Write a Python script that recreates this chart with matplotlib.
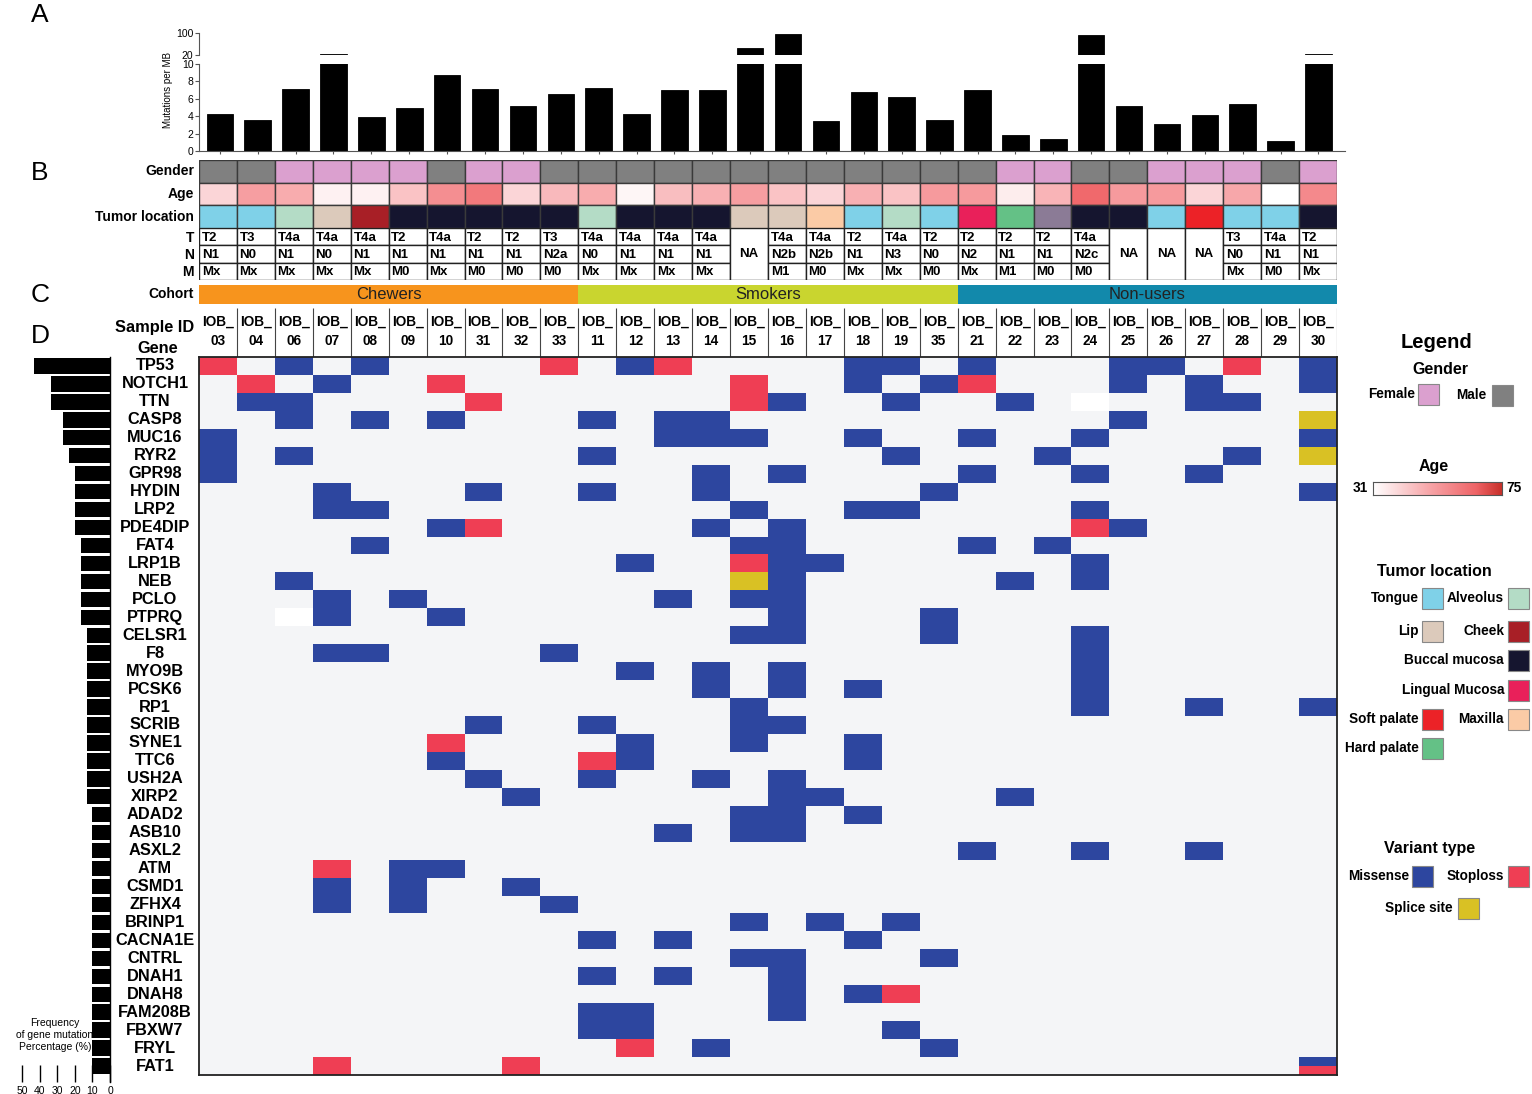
import numpy as np
import matplotlib
matplotlib.use('Agg')
import matplotlib.pyplot as plt
from matplotlib.patches import Rectangle
from matplotlib.colors import LinearSegmentedColormap, Normalize

plt.rcParams['font.family'] = ['Liberation Sans', 'DejaVu Sans']

W, H = 1532, 1094

# ---- data ----
samples = ['03', '04', '06', '07', '08', '09', '10', '31', '32', '33',
           '11', '12', '13', '14', '15', '16', '17', '18', '19', '35',
           '21', '22', '23', '24', '25', '26', '27', '28', '29', '30']
cohorts = ['Chewers', 'Smokers', 'Non-users']
cohort_sizes = [10, 10, 10]

# mutations per MB (panel A)
tmb = [4.2, 3.6, 7.1, 22, 3.9, 4.9, 8.7, 7.1, 5.2, 6.6,
       7.2, 4.3, 7.0, 7.0, 45, 98, 3.4, 6.8, 6.2, 3.6,
       7.0, 1.8, 1.4, 92, 5.2, 3.1, 4.1, 5.4, 1.2, 22]

gender = list('MMFFFFMFFM' 'MMMMMMMMMM' 'MFFMMFFFMF')
age = [40, 52, 49, 34, 34, 44, 56, 61, 40, 46,
       49, 33, 45, 48, 52, 44, 40, 48, 44, 53,
       53, 35, 47, 65, 53, 53, 40, 50, 31, 57]
location = ['Tongue', 'Tongue', 'Alveolus', 'Lip', 'Cheek', 'Buccal mucosa', 'Buccal mucosa',
            'Buccal mucosa', 'Buccal mucosa', 'Buccal mucosa',
            'Alveolus', 'Buccal mucosa', 'Buccal mucosa', 'Buccal mucosa', 'Lip', 'Lip',
            'Maxilla', 'Tongue', 'Alveolus', 'Tongue',
            'Lingual Mucosa', 'Hard palate', 'Other', 'Buccal mucosa', 'Buccal mucosa',
            'Tongue', 'Soft palate', 'Tongue', 'Tongue', 'Buccal mucosa']
t_stage = ['T2', 'T3', 'T4a', 'T4a', 'T4a', 'T2', 'T4a', 'T2', 'T2', 'T3',
           'T4a', 'T4a', 'T4a', 'T4a', 'NA', 'T4a', 'T4a', 'T2', 'T4a', 'T2',
           'T2', 'T2', 'T2', 'T4a', 'NA', 'NA', 'NA', 'T3', 'T4a', 'T2']
n_stage = ['N1', 'N0', 'N1', 'N0', 'N1', 'N1', 'N1', 'N1', 'N1', 'N2a',
           'N0', 'N1', 'N1', 'N1', 'NA', 'N2b', 'N2b', 'N1', 'N3', 'N0',
           'N2', 'N1', 'N1', 'N2c', 'NA', 'NA', 'NA', 'N0', 'N1', 'N1']
m_stage = ['Mx', 'Mx', 'Mx', 'Mx', 'Mx', 'M0', 'Mx', 'M0', 'M0', 'M0',
           'Mx', 'Mx', 'Mx', 'Mx', 'NA', 'M1', 'M0', 'Mx', 'Mx', 'M0',
           'Mx', 'M1', 'M0', 'M0', 'NA', 'NA', 'NA', 'Mx', 'M0', 'Mx']

genes = ['TP53', 'NOTCH1', 'TTN', 'CASP8', 'MUC16', 'RYR2', 'GPR98', 'HYDIN', 'LRP2',
         'PDE4DIP', 'FAT4', 'LRP1B', 'NEB', 'PCLO', 'PTPRQ', 'CELSR1', 'F8', 'MYO9B',
         'PCSK6', 'RP1', 'SCRIB', 'SYNE1', 'TTC6', 'USH2A', 'XIRP2', 'ADAD2', 'ASB10',
         'ASXL2', 'ATM', 'CSMD1', 'ZFHX4', 'BRINP1', 'CACNA1E', 'CNTRL', 'DNAH1',
         'DNAH8', 'FAM208B', 'FBXW7', 'FRYL', 'FAT1']

# M = missense, S = stoploss, P = splice site, W = unlabelled white, X = missense + stoploss
mut = [
    'S.M.M....S' '.MS....MM.' 'M...MM.S.M',  # TP53
    '.S.M..S...' '....S..M.M' 'S...M.M..M',  # NOTCH1
    '.MM....S..' '....SM..M.' '.M.W..MM..',  # TTN
    '..M.M.M...' 'M.MM......' '....M....P',  # CASP8
    'M.........' '..MMM..M..' 'M..M.....M',  # MUC16
    'M.M.......' 'M.......M.' '..M....M.P',  # RYR2
    'M.........' '...M.M....' 'M..M..M...',  # GPR98
    '...M...M..' 'M..M.....M' '.........M',  # HYDIN
    '...MM.....' '....M..MM.' '...M......',  # LRP2
    '......MS..' '...M.M....' '...SM.....',  # PDE4DIP
    '....M.....' '....MM....' 'M.M.......',  # FAT4
    '..........' '.M..SMM...' '...M......',  # LRP1B
    '..M.......' '....PM....' '.M.M......',  # NEB
    '...M.M....' '..M.MM....' '..........',  # PCLO
    '..WM..M...' '.....M...M' '..........',  # PTPRQ
    '..........' '....MM...M' '...M......',  # CELSR1
    '...MM....M' '..........' '...M......',  # F8
    '..........' '.M.M.M....' '...M......',  # MYO9B
    '..........' '...M.M.M..' '...M......',  # PCSK6
    '..........' '....M.....' '...M..M..M',  # RP1
    '.......M..' 'M...MM....' '..........',  # SCRIB
    '......S...' '.M..M..M..' '..........',  # SYNE1
    '......M...' 'SM.....M..' '..........',  # TTC6
    '.......M..' 'M..M.M....' '..........',  # USH2A
    '........M.' '.....MM...' '.M........',  # XIRP2
    '..........' '....MM.M..' '..........',  # ADAD2
    '..........' '..M.MM....' '..........',  # ASB10
    '..........' '..........' 'M..M..M...',  # ASXL2
    '...S.MM...' '..........' '..........',  # ATM
    '...M.M..M.' '..........' '..........',  # CSMD1
    '...M.M...M' '..........' '..........',  # ZFHX4
    '..........' '....M.M.M.' '..........',  # BRINP1
    '..........' 'M.M....M..' '..........',  # CACNA1E
    '..........' '....MM...M' '..........',  # CNTRL
    '..........' 'M.M..M....' '..........',  # DNAH1
    '..........' '.....M.MS.' '..........',  # DNAH8
    '..........' 'MM...M....' '..........',  # FAM208B
    '..........' 'MM......M.' '..........',  # FBXW7
    '..........' '.S.M.....M' '..........',  # FRYL
    '...S....S.' '..........' '.........X',  # FAT1
]

# frequency of gene mutation (%)
freq = [43.3, 33.3, 33.3, 26.7, 26.7, 23.3, 20, 20, 20, 20,
        16.7, 16.7, 16.7, 16.7, 16.7, 13.3, 13.3, 13.3, 13.3, 13.3,
        13.3, 13.3, 13.3, 13.3, 13.3, 10, 10, 10, 10, 10,
        10, 10, 10, 10, 10, 10, 10, 10, 10, 10]

# ---- colours ----
gender_colors = {'F': '#dba0cf', 'M': '#808080'}
loc_colors = {'Tongue': '#7fd1e8', 'Alveolus': '#b4dcc6', 'Lip': '#dccabb',
              'Cheek': '#a81f26', 'Buccal mucosa': '#15152f', 'Lingual Mucosa': '#e9205a',
              'Soft palate': '#ec2227', 'Maxilla': '#fbcba6', 'Hard palate': '#64c186',
              'Other': '#8b7b96'}
var_colors = {'M': '#2d469f', 'S': '#ef3e54', 'P': '#d9c124', 'W': '#ffffff'}
cohort_colors = ['#f7941d', '#c9d52f', '#1289ab']
age_cmap = LinearSegmentedColormap.from_list(
    'age', [(0, '#ffffff'), (0.45, '#f7a3a6'), (0.8, '#ef6467'), (1, '#c8302a')])
age_norm = Normalize(31, 75)


fig = plt.figure(figsize=(W / 100, H / 100), dpi=100)


def add_ax(x0, y0, x1, y1):
    return fig.add_axes([x0 / W, 1 - y1 / H, (x1 - x0) / W, (y1 - y0) / H])


n = len(samples)
x = np.arange(n)

# ---- A: mutations per MB (broken axis) ----
ax_lo = add_ax(199, 64, 1345, 151)
ax_hi = add_ax(199, 33, 1345, 55)
for ax in (ax_lo, ax_hi):
    ax.bar(x, tmb, width=0.7, color='black', edgecolor='black', linewidth=0.6)
    ax.set_xlim(-0.55, n - 0.3)
    ax.spines['top'].set_visible(False)
    ax.spines['right'].set_visible(False)
    ax.spines['left'].set_color('#555555')
    ax.spines['bottom'].set_color('#555555')
    ax.tick_params(axis='y', labelsize=7.5, length=3, color='#555555', pad=1)
ax_lo.set_ylim(0, 10)
ax_lo.set_yticks([0, 2, 4, 6, 8, 10])
ax_lo.set_xticks(x)
ax_lo.set_xticklabels([])
ax_lo.tick_params(axis='x', length=2.5, color='#555555')
ax_hi.set_ylim(20, 100)
ax_hi.set_yticks([20, 100])
ax_hi.set_xticks([])
ax_hi.spines['bottom'].set_visible(False)
fig.text(168 / W, 1 - 90 / H, 'Mutations per MB', rotation=90, fontsize=7,
         ha='center', va='center')

# ---- B: clinical rows ----
ax_b = add_ax(199, 160, 1337, 228)
ax_b.set_xlim(0, n)
ax_b.set_ylim(3, 0)
ax_b.axis('off')
for j in range(n):
    ax_b.add_patch(Rectangle((j, 0), 1, 1, fc=gender_colors[gender[j]], ec='#3a3a3a', lw=1))
    ax_b.add_patch(Rectangle((j, 1), 1, 1, fc=age_cmap(age_norm(age[j])), ec='#3a3a3a', lw=1))
    ax_b.add_patch(Rectangle((j, 2), 1, 1, fc=loc_colors[location[j]], ec='#3a3a3a', lw=1))
for r, lab in enumerate(['Gender', 'Age', 'Tumor location']):
    ax_b.text(-0.13, r + 0.5, lab, ha='right', va='center', fontsize=10, fontweight='bold')

ax_t = add_ax(199, 228, 1337, 280)
ax_t.set_xlim(0, n)
ax_t.set_ylim(3, 0)
ax_t.axis('off')
for j in range(n):
    if t_stage[j] == 'NA':
        ax_t.add_patch(Rectangle((j, 0), 1, 3, fc='white', ec='#222222', lw=1))
        ax_t.text(j + 0.5, 1.5, 'NA', ha='center', va='center', fontsize=9.5, fontweight='bold')
        continue
    for r, stage in enumerate([t_stage[j], n_stage[j], m_stage[j]]):
        ax_t.add_patch(Rectangle((j, r), 1, 1, fc='white', ec='#222222', lw=1))
        ax_t.text(j + 0.07, r + 0.55, stage, ha='left', va='center', fontsize=9.5,
                  fontweight='bold')
for r, lab in enumerate(['T', 'N', 'M']):
    ax_t.text(-0.13, r + 0.55, lab, ha='right', va='center', fontsize=10, fontweight='bold')

# ---- C: cohort ----
ax_co = add_ax(199, 285, 1337, 304)
ax_co.set_xlim(0, n)
ax_co.set_ylim(1, 0)
ax_co.axis('off')
start = 0
for name, size, col in zip(cohorts, cohort_sizes, cohort_colors):
    ax_co.add_patch(Rectangle((start, 0), size, 1, fc=col, ec='none'))
    ax_co.text(start + size / 2, 0.52, name, ha='center', va='center', fontsize=12,
               color='#222222')
    start += size
ax_co.text(-0.13, 0.5, 'Cohort', ha='right', va='center', fontsize=10, fontweight='bold')

# ---- sample ids ----
ax_id = add_ax(199, 304, 1337, 357)
ax_id.set_xlim(0, n)
ax_id.set_ylim(1, 0)
ax_id.axis('off')
ax_id.vlines(np.arange(1, n + 1), 0.08, 1, color='#444444', lw=0.8)
for j, s in enumerate(samples):
    ax_id.text(j + 0.5, 0.33, 'IOB_', ha='center', va='center', fontsize=9.8, fontweight='bold')
    ax_id.text(j + 0.5, 0.7, s, ha='center', va='center', fontsize=9.8, fontweight='bold')
ax_id.text(-0.12, 0.44, 'Sample ID', ha='right', va='center', fontsize=11.8, fontweight='bold')
ax_id.text(-1.1, 0.84, 'Gene', ha='center', va='center', fontsize=11.8, fontweight='bold')

# ---- D: mutation heatmap ----
ax_h = add_ax(199, 357, 1337, 1075)
ax_h.set_xlim(0, n)
ax_h.set_ylim(len(genes), 0)
ax_h.set_facecolor('#f4f5f7')
ax_h.set_xticks([])
ax_h.set_yticks([])
for sp in ax_h.spines.values():
    sp.set_linewidth(1.3)
    sp.set_color('#222222')
for i, row in enumerate(mut):
    for j, c in enumerate(row):
        if c == '.':
            continue
        if c == 'X':
            ax_h.add_patch(Rectangle((j, i), 1, 0.5, fc=var_colors['M'], ec='none'))
            ax_h.add_patch(Rectangle((j, i + 0.5), 1, 0.5, fc=var_colors['S'], ec='none'))
        else:
            ax_h.add_patch(Rectangle((j, i), 1, 1, fc=var_colors[c], ec='none'))
for i, g in enumerate(genes):
    ax_h.text(-1.16, i + 0.5, g, ha='center', va='center', fontsize=11.8, fontweight='bold')

# ---- frequency bars ----
ax_f = add_ax(22, 357, 110, 1082)
ax_f.barh(np.arange(len(genes)) + 0.5, freq, height=0.86, color='black')
ax_f.set_xlim(50, 0)
ax_f.set_ylim(len(genes) + 0.39, 0)
ax_f.set_yticks([])
ax_f.set_xticks([50, 40, 30, 20, 10, 0])
ax_f.tick_params(axis='x', direction='in', length=12, width=1, labelsize=7.5, pad=3)
for side in ['top', 'left', 'bottom']:
    ax_f.spines[side].set_visible(False)
ax_f.spines['right'].set_linewidth(1)
fig.text(55 / W, 1 - 1035 / H, 'Frequency\nof gene mutation\nPercentage (%)', ha='center',
         va='center', fontsize=7.5, linespacing=1.3)

# ---- legend ----
ax_l = add_ax(1340, 320, 1532, 940)
ax_l.set_xlim(1340, 1532)
ax_l.set_ylim(940, 320)
ax_l.axis('off')
for txt, tx, ty, fs in [('Legend', 1437, 343, 14.5), ('Gender', 1440, 369, 11.5),
                        ('Age', 1434, 467, 11.5), ('Tumor location', 1434, 572, 11.5),
                        ('Variant type', 1430, 849, 11.5)]:
    ax_l.text(tx, ty, txt, ha='center', va='center', fontsize=fs, fontweight='bold')

legend_items = [
    ('Female', gender_colors['F'], 1415, 1418, 394),
    ('Male', gender_colors['M'], 1486, 1492, 395),
    ('Tongue', loc_colors['Tongue'], 1419, 1422, 598),
    ('Alveolus', loc_colors['Alveolus'], 1504, 1508, 598),
    ('Lip', loc_colors['Lip'], 1419, 1422, 631),
    ('Cheek', loc_colors['Cheek'], 1504, 1508, 631),
    ('Buccal mucosa', loc_colors['Buccal mucosa'], 1504, 1508, 660),
    ('Lingual Mucosa', loc_colors['Lingual Mucosa'], 1504, 1508, 690),
    ('Soft palate', loc_colors['Soft palate'], 1419, 1422, 719),
    ('Maxilla', loc_colors['Maxilla'], 1504, 1508, 719),
    ('Hard palate', loc_colors['Hard palate'], 1419, 1422, 748),
    ('Missense', var_colors['M'], 1409, 1412, 876),
    ('Stoploss', var_colors['S'], 1504, 1508, 876),
    ('Splice site', var_colors['P'], 1453, 1458, 908),
]
for lab, col, tx, sx, ty in legend_items:
    ax_l.text(tx, ty, lab, ha='right', va='center', fontsize=9.8, fontweight='bold')
    ax_l.add_patch(Rectangle((sx, ty - 10.5), 21, 21, fc=col, ec='#888888', lw=0.8))

ax_l.text(1368, 488, '31', ha='right', va='center', fontsize=9.8, fontweight='bold')
ax_l.text(1506, 488, '75', ha='left', va='center', fontsize=9.8, fontweight='bold')
ax_cb = add_ax(1373, 482, 1502, 495)
ax_cb.imshow(np.linspace(31, 75, 256)[None, :], cmap=age_cmap, norm=age_norm, aspect='auto')
ax_cb.set_xticks([])
ax_cb.set_yticks([])
for sp in ax_cb.spines.values():
    sp.set_linewidth(0.8)
    sp.set_color('#555555')

# ---- panel letters ----
for letter, py in [('A', 15), ('B', 173), ('C', 295), ('D', 336)]:
    fig.text(31 / W, 1 - py / H, letter, fontsize=19, ha='left', va='center')

fig.savefig('out.png', dpi=100)
